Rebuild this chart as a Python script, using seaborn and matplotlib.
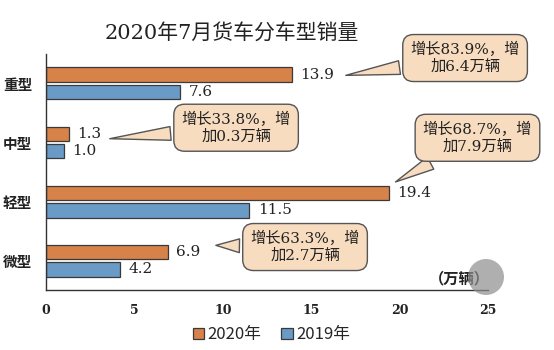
import matplotlib
matplotlib.use("Agg")
import matplotlib.pyplot as plt
import seaborn as sns
import pandas as pd
from matplotlib.patches import Ellipse

categories = ["重型", "中型", "轻型", "微型"]
sales_2020 = [13.9, 1.3, 19.4, 6.9]
sales_2019 = [7.6, 1.0, 11.5, 4.2]
series = ["2020年", "2019年"]
x_ticks = [0, 5, 10, 15, 20, 25]
callouts = ["增长83.9%，增\n加6.4万辆", "增长33.8%，增\n加0.3万辆",
            "增长68.7%，增\n加7.9万辆", "增长63.3%，增\n加2.7万辆"]

sns.set_theme(style="white")
CJK = ["Noto Sans CJK SC", "DejaVu Sans"]
SERIF = ["DejaVu Serif", "Noto Sans CJK SC"]
plt.rcParams["font.family"] = CJK
plt.rcParams["axes.unicode_minus"] = False

df = pd.DataFrame({
    "type": categories * 2,
    "value": sales_2020 + sales_2019,
    "year": [series[0]] * 4 + [series[1]] * 4,
})

fig = plt.figure(figsize=(5.54, 3.5), dpi=100)
ax = fig.add_axes([0.083, 0.171, 0.798, 0.675])

sns.barplot(data=df, y="type", x="value", hue="year", order=categories,
            hue_order=series, palette=["#ED7D31", "#5B9BD5"], width=0.6, gap=0.2,
            edgecolor="#3a3a3a", linewidth=0.9, ax=ax, legend=True)

ax.set_xlim(0, 25)
ax.set_ylim(3.5, -0.5)
ax.set_xticks(x_ticks)
ax.set_xticklabels([str(t) for t in x_ticks], fontsize=9, fontweight="bold",
                   family=SERIF, color="#222")
ax.set_yticks(range(len(categories)))
ax.set_yticklabels(categories, fontsize=10.5, fontweight="bold", color="#222")
ax.set_yticks([i - 0.5 for i in range(len(categories) + 1)], minor=True)
ax.tick_params(axis="y", which="major", length=0, pad=10)
ax.tick_params(axis="y", which="minor", direction="in", length=4, width=0.9, color="#333")
ax.tick_params(axis="x", which="major", direction="in", length=4, width=0.9,
               color="#333", pad=10)
ax.set_xlabel("")
ax.set_ylabel("")
for s in ["top", "right"]:
    ax.spines[s].set_visible(False)
for s in ["left", "bottom"]:
    ax.spines[s].set_color("#333")
    ax.spines[s].set_linewidth(1.0)

for cont, vals in zip(ax.containers, [sales_2020, sales_2019]):
    ax.bar_label(cont, labels=[f"{v:.1f}" for v in vals], padding=6,
                 fontsize=11, family=SERIF, color="#222")

ax.text(1.005, 0.05, "（万辆）", transform=ax.transAxes, ha="right", va="center",
        fontsize=11, fontweight="bold", color="#222")

fig.text(0.418, 0.905, "2020年7月货车分车型销量", ha="center", va="center",
         fontsize=15, family=SERIF, color="#222")

# callouts: (tip in data coords, text center in data coords)
tips = [(16.8, -0.13), (3.45, 0.94), (19.63, 1.69), (9.45, 2.74)]
centers = [(23.7, -0.43), (10.75, 0.75), (24.4, 0.92), (14.65, 2.77)]
peach = "#F8DCC0"
for txt, tip, c in zip(callouts, tips, centers):
    ax.annotate(txt, xy=tip, xytext=c, xycoords="data", textcoords="data",
                ha="center", va="center", fontsize=11, family=SERIF,
                linespacing=1.2, color="#222", annotation_clip=False,
                bbox=dict(boxstyle="round,pad=0.5,rounding_size=0.7", fc=peach,
                          ec="#555", lw=1.0),
                arrowprops=dict(arrowstyle="wedge,tail_width=0.9,shrink_factor=0.5",
                                fc=peach, ec="#555", lw=1.0))

leg = ax.get_legend()
leg.remove()
handles, labels = ax.get_legend_handles_labels()
fig.legend(handles, labels, loc="center", bbox_to_anchor=(0.49, 0.043), ncol=2,
           frameon=False, fontsize=12, handlelength=0.7, handleheight=0.7,
           handletextpad=0.2, columnspacing=1.2)

# carousel overlay seen on the reference image
circ = Ellipse((486 / 554, 1 - 277 / 350), 36 / 554, 36 / 350,
               transform=fig.transFigure, fc="#8e8e8e", ec="none", alpha=0.7)
fig.add_artist(circ)

fig.savefig("out.png", dpi=100)
